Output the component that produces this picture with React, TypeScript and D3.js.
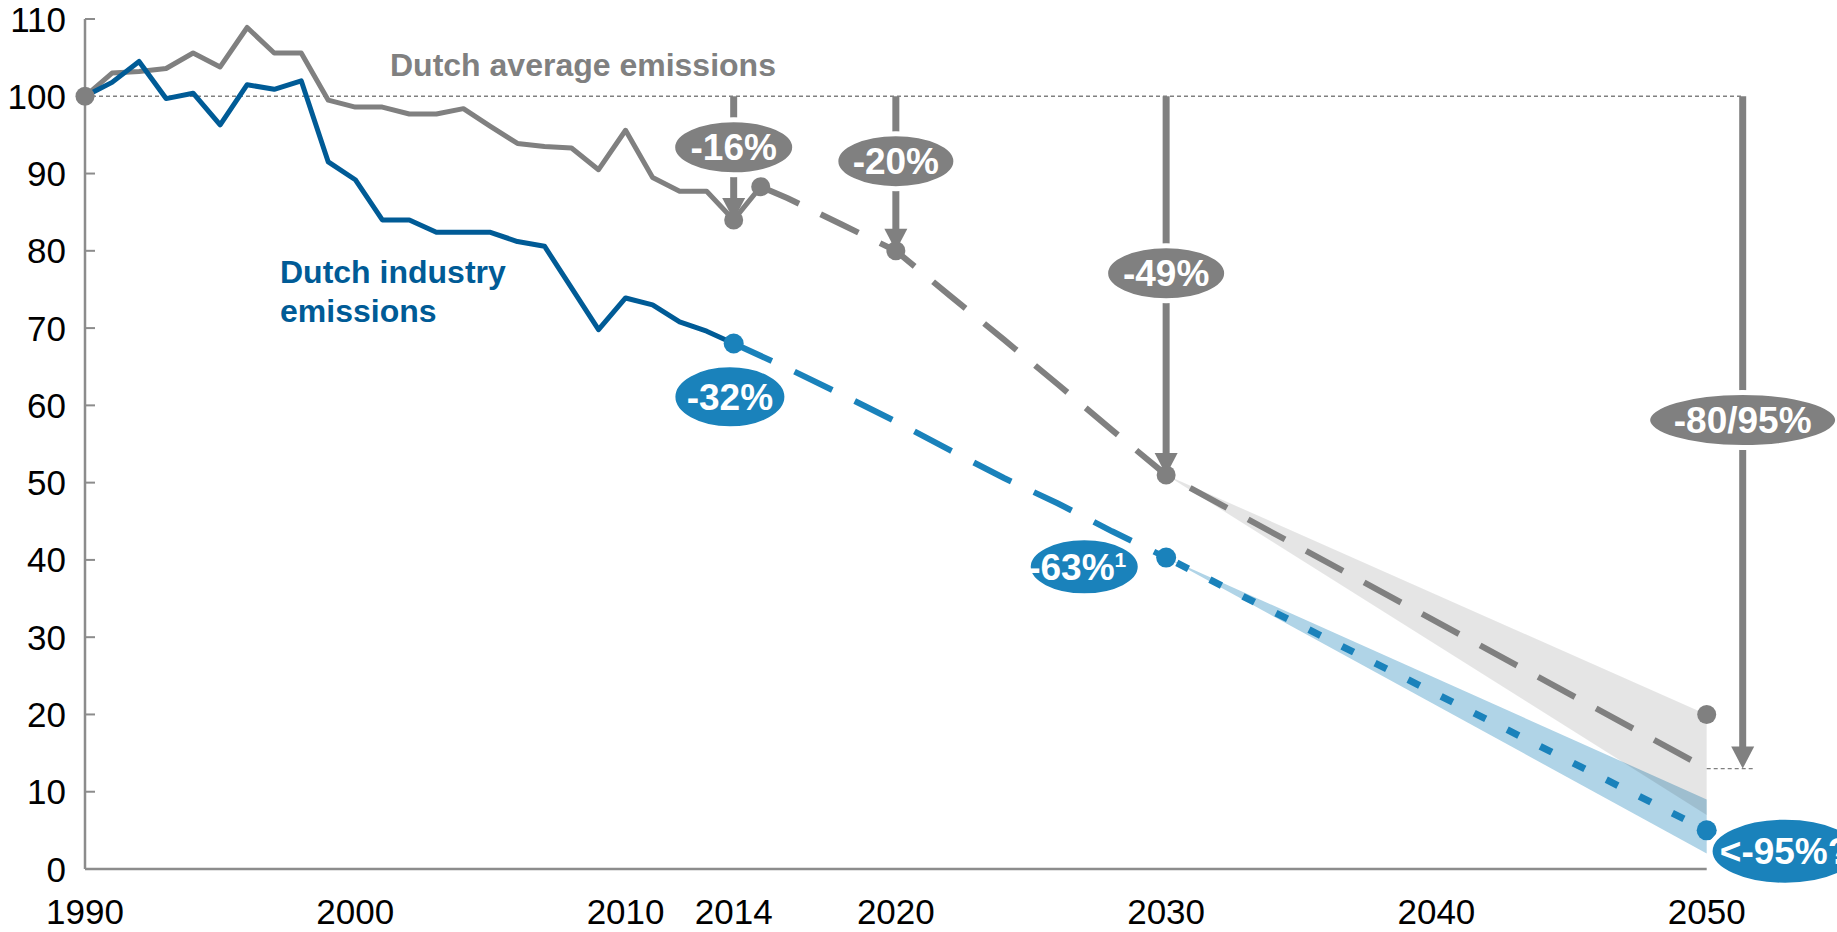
import React from 'react';
import * as d3 from 'd3';

// Emissions index, 1990 = 100
const avgYears = [1990, 1991, 1992, 1993, 1994, 1995, 1996, 1997, 1998, 1999, 2000, 2001, 2002, 2003, 2004, 2005, 2006, 2007, 2008, 2009, 2010, 2011, 2012, 2013, 2014, 2015];
const avgValues = [100, 103.0, 103.2, 103.6, 105.6, 103.8, 108.9, 105.6, 105.6, 99.5, 98.6, 98.6, 97.7, 97.7, 98.4, 96.1, 93.9, 93.5, 93.3, 90.5, 95.6, 89.5, 87.7, 87.7, 84, 88.3];

const indYears = [1990, 1991, 1992, 1993, 1994, 1995, 1996, 1997, 1998, 1999, 2000, 2001, 2002, 2003, 2004, 2005, 2006, 2007, 2008, 2009, 2010, 2011, 2012, 2013, 2014];
const indValues = [100, 101.8, 104.5, 99.7, 100.4, 96.3, 101.5, 100.9, 102.0, 91.5, 89.2, 84.0, 84.0, 82.4, 82.4, 82.4, 81.2, 80.6, 75.2, 69.8, 73.9, 73.0, 70.8, 69.6, 68];

// Targets / projections
const avgPathYears = [2015, 2016, 2018, 2020, 2022, 2024, 2026, 2028, 2030, 2050];
const avgPathValues = [88.3, 86.8, 83.4, 80, 74.2, 68.5, 62.7, 56.8, 51, 13];

const indPathYears = [2014, 2016, 2018, 2020, 2022, 2024, 2026, 2028, 2030];
const indPathValues = [68, 64.8, 61.4, 57.9, 54.2, 50.6, 47.3, 43.7, 40.3];

const indTailYears = [2030, 2050];
const indTailValues = [40.3, 5];

// Uncertainty ranges 2030 -> 2050
const bandYears = [2030, 2050];
const avgBandLow = [51, 7];
const avgBandHigh = [51, 20];
const indBandLow = [40.3, 2];
const indBandHigh = [40.3, 9];

// Reduction milestones for the national average
const avgTargetYears = [2014, 2020, 2030];
const avgTargetCuts = [16, 20, 49];
const avgTargetLabels = ['-16%', '-20%', '-49%'];
const longTermYear = 2050;
const longTermValue = 13;
const longTermLabel = '-80/95%';

// Markers
const avgMarkerYears = [1990, 2014, 2015, 2020, 2030, 2050];
const avgMarkerValues = [100, 84, 88.3, 80, 51, 20];
const indMarkerYears = [2014, 2030, 2050];
const indMarkerValues = [68, 40.3, 5];

const xTickYears = [1990, 2000, 2010, 2014, 2020, 2030, 2040, 2050];

const GRAY = '#808080';
const DARK_BLUE = '#005b96';
const BLUE = '#1a82bb';
const FONT = '"Liberation Sans", Arial, Helvetica, sans-serif';

const W = 1837;
const H = 932;

const x = d3.scaleLinear().domain([1990, 2050]).range([85, 1706.7]);
const y = d3.scaleLinear().domain([0, 110]).range([869, 19]);

const line = d3
  .line<[number, number]>()
  .x((d) => x(d[0]))
  .y((d) => y(d[1]));

const zip = (a: number[], b: number[]): [number, number][] => a.map((v, i) => [v, b[i]]);

const area = d3
  .area<[number, number, number]>()
  .x((d) => x(d[0]))
  .y0((d) => y(d[1]))
  .y1((d) => y(d[2]));

type Bubble = { year: number; value: number; rx: number; ry: number; fill: string; text: string; sup?: string; dx?: number };

const bubbles: Bubble[] = [
  { year: 2014, value: 93.4, rx: 61, ry: 27.5, fill: GRAY, text: avgTargetLabels[0] },
  { year: 2020, value: 91.6, rx: 60, ry: 27.5, fill: GRAY, text: avgTargetLabels[1] },
  { year: 2030, value: 77.1, rx: 60.5, ry: 27.5, fill: GRAY, text: avgTargetLabels[2] },
  { year: 2051.33, value: 58.1, rx: 95, ry: 27.5, fill: GRAY, text: longTermLabel },
  { year: 2013.86, value: 61.1, rx: 57, ry: 32, fill: BLUE, text: '-32%' },
  { year: 2026.97, value: 39.1, rx: 56, ry: 29, fill: BLUE, text: '-63%', sup: '1', dx: -7 },
  { year: 2052.9, value: 2.3, rx: 75, ry: 34, fill: BLUE, text: '<-95%?' },
];

function Arrow({ xp, tipValue }: { xp: number; tipValue: number }) {
  const top = y(100);
  const tip = y(tipValue);
  const head = 22;
  return (
    <g>
      <line x1={xp} x2={xp} y1={top} y2={tip - head + 2} stroke={GRAY} strokeWidth={7} />
      <polygon points={`${xp - 11.5},${tip - head} ${xp + 11.5},${tip - head} ${xp},${tip}`} fill={GRAY} />
    </g>
  );
}

export default function App() {
  const yTicks = y.ticks(11);
  const longX = x(longTermYear) + 36;

  return (
    <svg
      width={W}
      height={H}
      viewBox={`0 0 ${W} ${H}`}
      style={{ position: 'absolute', left: 0, top: 0, background: '#fff', fontFamily: FONT }}
    >
      {/* ranges */}
      <path
        d={area(bandYears.map((yr, i) => [yr, indBandLow[i], indBandHigh[i]] as [number, number, number])) || ''}
        fill="#b0d4e7"
      />
      <path
        d={area(bandYears.map((yr, i) => [yr, avgBandLow[i], avgBandHigh[i]] as [number, number, number])) || ''}
        fill="rgba(0,0,0,0.1)"
      />

      {/* 1990 reference level */}
      <line x1={x(1990)} x2={longX} y1={y(100)} y2={y(100)} stroke={GRAY} strokeWidth={1.3} strokeDasharray="4 3" />
      <line x1={x(2050)} x2={longX + 12} y1={y(longTermValue)} y2={y(longTermValue)} stroke={GRAY} strokeWidth={1.3} strokeDasharray="4 3" />

      {/* axes */}
      <line x1={x(1990)} x2={x(1990)} y1={y(110)} y2={y(0)} stroke="#8c8c8c" strokeWidth={2.5} />
      <line x1={x(1990)} x2={x(2050)} y1={y(0)} y2={y(0)} stroke="#8c8c8c" strokeWidth={2.5} />
      {yTicks.map((t) => (
        <g key={t}>
          <line x1={x(1990)} x2={x(1990) + 10} y1={y(t)} y2={y(t)} stroke="#8c8c8c" strokeWidth={2} />
          <text x={66} y={y(t) + 12.5} textAnchor="end" fontSize={35} fill="#000">
            {t}
          </text>
        </g>
      ))}
      {xTickYears.map((yr) => (
        <text key={yr} x={x(yr)} y={924} textAnchor="middle" fontSize={35} fill="#000">
          {yr}
        </text>
      ))}

      {/* history */}
      <path d={line(zip(avgYears, avgValues)) || ''} fill="none" stroke={GRAY} strokeWidth={5} strokeLinejoin="round" />
      <path d={line(zip(indYears, indValues)) || ''} fill="none" stroke={DARK_BLUE} strokeWidth={5} strokeLinejoin="round" />

      {/* projections */}
      <path
        d={line(zip(avgPathYears, avgPathValues)) || ''}
        fill="none"
        stroke={GRAY}
        strokeWidth={6}
        strokeDasharray="42 24"
      />
      <path
        d={line(zip(indPathYears, indPathValues)) || ''}
        fill="none"
        stroke={BLUE}
        strokeWidth={6}
        strokeDasharray="42 25"
      />
      <path
        d={line(zip(indTailYears, indTailValues)) || ''}
        fill="none"
        stroke={BLUE}
        strokeWidth={7}
        strokeDasharray="13 24"
        strokeDashoffset={-12}
      />

      {/* reduction arrows */}
      {avgTargetYears.map((yr, i) => (
        <Arrow key={yr} xp={x(yr)} tipValue={100 - avgTargetCuts[i]} />
      ))}
      <Arrow xp={longX} tipValue={longTermValue} />

      {/* markers */}
      {avgMarkerYears.map((yr, i) => (
        <circle key={'a' + yr} cx={x(yr)} cy={y(avgMarkerValues[i])} r={9.5} fill={GRAY} />
      ))}
      {indMarkerYears.map((yr, i) => (
        <circle key={'b' + yr} cx={x(yr)} cy={y(indMarkerValues[i])} r={10} fill={BLUE} />
      ))}

      {/* value bubbles */}
      {bubbles.map((b) => {
        const cx = x(b.year);
        const cy = y(b.value);
        return (
          <g key={b.text}>
            <ellipse cx={cx} cy={cy} rx={b.rx} ry={b.ry} fill={b.fill} stroke="#fff" strokeWidth={5} />
            <text
              x={cx + (b.dx || 0)}
              y={cy + 13}
              textAnchor="middle"
              fontSize={37}
              fontWeight="bold"
              fill="#fff"
            >
              {b.text}
              {b.sup ? (
                <tspan fontSize={21} dy={-13}>
                  {b.sup}
                </tspan>
              ) : null}
            </text>
          </g>
        );
      })}

      {/* series names */}
      <text x={390} y={76} fontSize={32} fontWeight="bold" fill={GRAY}>
        Dutch average emissions
      </text>
      <text x={280} y={283} fontSize={32} fontWeight="bold" fill={DARK_BLUE}>
        Dutch industry
      </text>
      <text x={280} y={322} fontSize={32} fontWeight="bold" fill={DARK_BLUE}>
        emissions
      </text>
    </svg>
  );
}
